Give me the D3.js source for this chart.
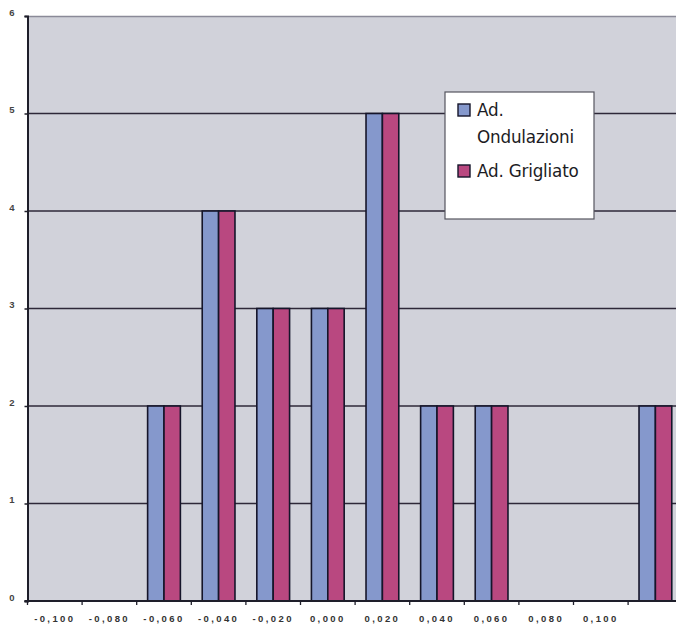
<!DOCTYPE html>
<html>
<head>
<meta charset="utf-8">
<script src="https://cdn.jsdelivr.net/npm/d3@7"></script>
<style>
  body { margin: 0; background: #fff; }
  svg { display: block; }
</style>
</head>
<body>
<div id="chart"></div>
<script>
var categories = ['-0,100', '-0,080', '-0,060', '-0,040', '-0,020', '0,000', '0,020', '0,040', '0,060', '0,080', '0,100', 'extra']
var tickLabels = ['-0,100', '-0,080', '-0,060', '-0,040', '-0,020', '0,000', '0,020', '0,040', '0,060', '0,080', '0,100', '']
var seriesNames = ['Ad. Ondulazioni', 'Ad. Grigliato']
var ondulazioni = [0, 0, 2, 4, 3, 3, 5, 2, 2, 0, 0, 2]
var grigliato = [0, 0, 2, 4, 3, 3, 5, 2, 2, 0, 0, 2]
var yTicks = [0, 1, 2, 3, 4, 5, 6]

var colors = ['#8598cc', '#b94880']

var W = 676, H = 625
var plotLeft = 27.5, plotTop = 16, plotBottom = 601
var step = 54.6

var svg = d3.select('#chart').append('svg')
  .attr('width', W)
  .attr('height', H)

var x = d3.scaleBand()
  .domain(categories)
  .range([plotLeft, plotLeft + step * categories.length])
  .padding(0)

var xSub = d3.scaleBand()
  .domain(seriesNames)
  .range([0, x.bandwidth()])
  .paddingInner(0)
  .paddingOuter(0.667)

var y = d3.scaleLinear()
  .domain([0, 6])
  .range([plotBottom, plotTop])

// plot background
svg.append('rect')
  .attr('x', plotLeft)
  .attr('y', plotTop)
  .attr('width', W - plotLeft)
  .attr('height', plotBottom - plotTop)
  .attr('fill', '#d1d2da')

svg.append('line')
  .attr('x1', plotLeft).attr('x2', W)
  .attr('y1', plotTop + 0.5).attr('y2', plotTop + 0.5)
  .attr('stroke', '#8a8a98')
  .attr('stroke-width', 1.5)

// gridlines
svg.selectAll('.grid')
  .data(yTicks.filter(function (d) { return d > 0 && d < 6 }))
  .enter().append('line')
  .attr('class', 'grid')
  .attr('x1', plotLeft).attr('x2', W)
  .attr('y1', function (d) { return y(d) }).attr('y2', function (d) { return y(d) })
  .attr('stroke', '#2e2838')
  .attr('stroke-width', 1.3)

// bars
var series = [ondulazioni, grigliato]
series.forEach(function (vals, si) {
  categories.forEach(function (c, i) {
    if (!vals[i]) return
    svg.append('rect')
      .attr('class', 'b' + si)
      .attr('x', x(c) + xSub(seriesNames[si]))
      .attr('y', y(vals[i]))
      .attr('width', xSub.bandwidth())
      .attr('height', plotBottom - y(vals[i]))
      .attr('fill', colors[si])
      .attr('stroke', '#15152a')
      .attr('stroke-width', 1.6)
  })
})

// y axis
var yAxis = d3.axisLeft(y)
  .tickValues(yTicks)
  .tickSize(3)
  .tickFormat(d3.format('d'))

var gy = svg.append('g')
  .attr('transform', 'translate(' + plotLeft + ',0)')
  .call(yAxis)
gy.select('.domain').attr('stroke', '#1e1e2a').attr('stroke-width', 2)
gy.selectAll('.tick line').attr('stroke', '#1e1e2a').attr('stroke-width', 1.5)
gy.selectAll('.tick text')
  .attr('x', -13)
  .attr('dy', '-0.1em')
  .attr('fill', '#444')
  .style('font-family', 'Liberation Sans, Arial, sans-serif')
  .style('font-size', '9.5px')
  .style('font-weight', 'bold')

// x axis
svg.append('line')
  .attr('x1', plotLeft - 3).attr('x2', W)
  .attr('y1', plotBottom).attr('y2', plotBottom)
  .attr('stroke', '#1e1e2a')
  .attr('stroke-width', 2)

svg.selectAll('.xtick')
  .data(categories)
  .enter().append('line')
  .attr('class', 'xtick')
  .attr('x1', function (d) { return x(d) }).attr('x2', function (d) { return x(d) })
  .attr('y1', plotBottom).attr('y2', plotBottom + 4)
  .attr('stroke', '#1e1e2a')
  .attr('stroke-width', 1.3)

svg.selectAll('.xlabel')
  .data(categories)
  .enter().append('text')
  .attr('class', 'xlabel')
  .attr('x', function (d) { return x(d) + x.bandwidth() / 2 })
  .attr('y', 622)
  .attr('text-anchor', 'middle')
  .attr('fill', '#333')
  .style('font-family', 'Liberation Sans, Arial, sans-serif')
  .style('font-size', '9.5px')
  .style('font-weight', 'bold')
  .style('letter-spacing', '2.4px')
  .text(function (d, i) { return tickLabels[i] })

// legend
var lg = svg.append('g').attr('transform', 'translate(445,92)')
lg.append('rect')
  .attr('width', 149)
  .attr('height', 127)
  .attr('fill', '#fff')
  .attr('stroke', '#55555f')
  .attr('stroke-width', 1.2)

var legendItems = [
  { lines: ['Ad.', 'Ondulazioni'], sy: 12, ty: 24 },
  { lines: ['Ad. Grigliato'], sy: 73, ty: 85 }
]
legendItems.forEach(function (it, i) {
  lg.append('rect')
    .attr('x', 13).attr('y', it.sy)
    .attr('width', 12).attr('height', 12)
    .attr('fill', colors[i])
    .attr('stroke', '#15152a')
    .attr('stroke-width', 1.4)
  var t = lg.append('text')
    .attr('x', 32).attr('y', it.ty)
    .attr('fill', '#1c1c24')
    .style('font-family', 'DejaVu Sans, sans-serif')
    .style('font-size', '16.8px')
    .style('letter-spacing', '-0.2px')
  it.lines.forEach(function (l, j) {
    t.append('tspan')
      .attr('x', 32)
      .attr('dy', j === 0 ? 0 : 27)
      .text(l)
  })
})
</script>
</body>
</html>
